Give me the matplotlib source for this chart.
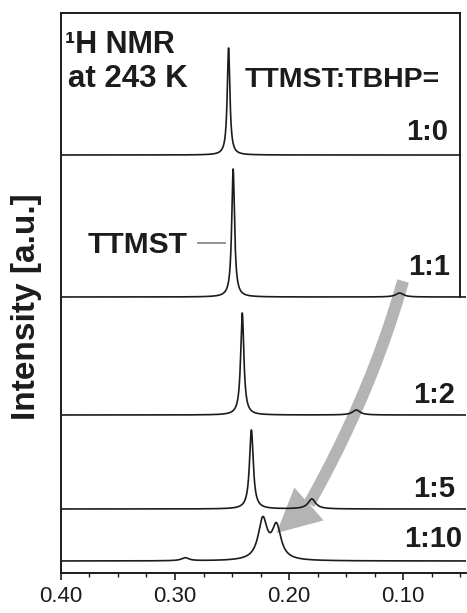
import numpy as np
import matplotlib
matplotlib.use("Agg")
import matplotlib.pyplot as plt
from matplotlib.patches import Polygon
from matplotlib.ticker import MultipleLocator

# TTMST:TBHP mixing ratios, top to bottom
ratios = ["1:0", "1:1", "1:2", "1:5", "1:10"]
# Lorentzian peaks of each spectrum: chemical shift (ppm), height (a.u.), half width (ppm)
peak_shifts = [[0.253], [0.249, 0.103], [0.241, 0.141], [0.233, 0.180], [0.291, 0.223, 0.211]]
peak_heights = [[107], [128, 4], [102, 5], [79, 10], [3, 40.0, 32.9]]
peak_widths = [[0.0014], [0.0015, 0.004], [0.0017, 0.004], [0.0020, 0.004], [0.004, 0.0048, 0.0048]]
tick_values = [0.40, 0.30, 0.20, 0.10]
tick_labels = ["0.40", "0.30", "0.20", "0.10"]

# vertical stacking of the traces
offsets = [418, 276, 158, 64, 12]

plt.rcParams["font.family"] = ["Liberation Sans", "DejaVu Sans"]

W, H = 467, 613
fig = plt.figure(figsize=(W / 100, H / 100), dpi=100)
ax = fig.add_axes([61 / W, 40 / H, 405 / W, 560 / H])
x_left, x_right = 0.40, 0.40 - 405 / 1140
ax.set_xlim(x_left, x_right)
ax.set_ylim(0, 560)

ink = "#1c1c1c"
box_right = 0.05
for i, (shifts, heights, widths, off) in enumerate(zip(peak_shifts, peak_heights, peak_widths, offsets)):
    # the top trace stays inside the box, the others run to the edge
    x = np.linspace(x_left, box_right if i == 0 else x_right, 8000)
    y = np.full_like(x, off, dtype=float)
    for c, h, g in zip(shifts, heights, widths):
        y += h / (1 + ((x - c) / g) ** 2)
    ax.plot(x, y, color=ink, lw=1.2, zorder=3)

# frame: left/bottom spines plus a partial box around the upper traces
for s in ["top", "right"]:
    ax.spines[s].set_visible(False)
for s in ["left", "bottom"]:
    ax.spines[s].set_linewidth(1.4)
    ax.spines[s].set_color(ink)
ax.plot([x_left, box_right], [560, 560], color=ink, lw=1.4, clip_on=False, zorder=3)
ax.plot([box_right, box_right], [560, offsets[1]], color=ink, lw=1.4, clip_on=False, zorder=3)

ax.set_xticks(tick_values, tick_labels)
ax.xaxis.set_minor_locator(MultipleLocator(0.025))
ax.tick_params(axis="x", which="major", direction="out", length=5, width=1.2,
               labelsize=16, pad=4, colors=ink)
ax.tick_params(axis="x", which="minor", direction="out", length=3, width=1.0, colors=ink)
ax.set_yticks([])


def ftext(px, py, s, **kw):
    fig.text(px / W, 1 - py / H, s, color=ink, **kw)


ftext(65, 53, "\u00b9H NMR", fontsize=22, fontweight="bold", ha="left", va="baseline")
ftext(68, 87, "at 243 K", fontsize=22.5, fontweight="bold", ha="left", va="baseline")
ftext(245, 87, "TTMST:TBHP=", fontsize=20.5, fontweight="bold", ha="left", va="baseline")
label_pos = [(448, 140), (450, 275), (455, 403), (455, 497), (462, 547)]
for r, (px, py) in zip(ratios, label_pos):
    ftext(px, py, r, fontsize=21, fontweight="bold", ha="right", va="baseline")
ftext(88, 253, "TTMST", fontsize=21.5, fontweight="bold", ha="left", va="baseline")
ax.plot([peak_shifts[1][0] + 0.031, peak_shifts[1][0] + 0.007], [330, 330],
        color="#8a8a8a", lw=1.3, zorder=3)
ftext(27, 307, "Intensity [a.u.]", fontsize=24, fontweight="bold",
      rotation=90, ha="center", va="center")

# grey arrow following the shifting TBHP-related signal
guide = ax.transData.transform([
    (peak_shifts[1][1], offsets[1] + peak_heights[1][1]),
    (peak_shifts[2][1], offsets[2] + peak_heights[2][1]),
    (peak_shifts[3][1], offsets[3] + peak_heights[3][1]),
])
tip = ax.transData.transform((peak_shifts[4][2], offsets[4] + peak_heights[4][2] - 5))
fit = np.polyfit(guide[:, 1], guide[:, 0], 2)           # x as a function of y (pixels)
yy = np.linspace(guide[0, 1] + 12, guide[2, 1] - 5, 300)
band = np.c_[np.polyval(fit, yy), yy]
base = band[-1]
u = (tip - base) / np.hypot(*(tip - base))
n = np.array([-u[1], u[0]])
head_w = 44
inv = ax.transData.inverted()
band_d = inv.transform(band)
arrow_grey = "#b4b4b4"
ax.plot(band_d[:, 0], band_d[:, 1], color=arrow_grey, lw=8.6,
        solid_capstyle="butt", zorder=1)
head = inv.transform(np.array([tip, base + n * head_w / 2, base - n * head_w / 2]))
ax.add_patch(Polygon(head, closed=True, facecolor=arrow_grey, edgecolor="none", zorder=1))

fig.savefig("out.png", dpi=100)
